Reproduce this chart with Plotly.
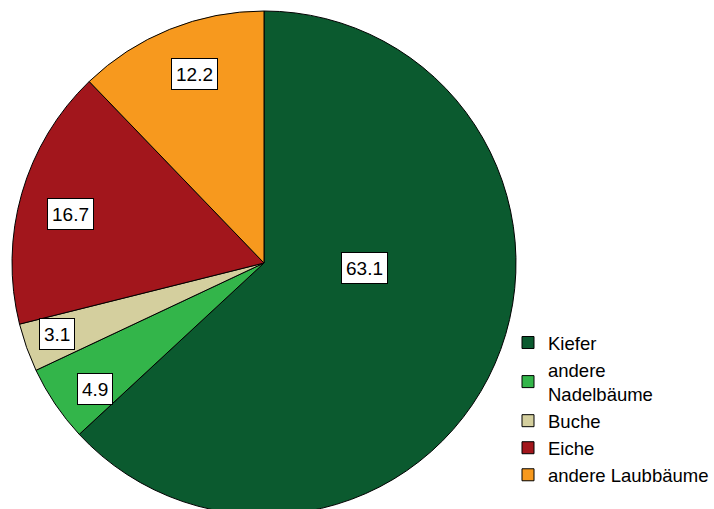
import math
import plotly.graph_objects as go

labels = ["Kiefer", "andere<br>Nadelbäume", "Buche", "Eiche", "andere Laubbäume"]
values = [63.1, 4.9, 3.1, 16.7, 12.2]
value_text = ["63.1", "4.9", "3.1", "16.7", "12.2"]
colors = ["#0b5a2f", "#33b54a", "#d4cf9e", "#a2161c", "#f7991e"]

# label placement style (fraction of radius, angular offset in degrees)
label_rfrac = [0.40, 0.836, 0.867, 0.79, 0.80]
label_dang = [-20.8, -2.8, 0.6, -1.9, 1.9]

W, H = 714, 526
dom_x = [12 / W, 516 / W]
dom_y = [1 - 515 / H, 1 - 11 / H]
FONT = "Liberation Sans, Arial, sans-serif"

fig = go.Figure()
fig.add_trace(go.Pie(
    labels=labels, values=values, sort=False, direction="clockwise", rotation=0,
    marker=dict(colors=colors, line=dict(color="black", width=1)),
    textinfo="none", hoverinfo="label+value",
    domain=dict(x=dom_x, y=dom_y),
))

# pie geometry in pixels (derived from domain)
cx = (dom_x[0] + dom_x[1]) / 2 * W
cy = (1 - (dom_y[0] + dom_y[1]) / 2) * H
R = min((dom_x[1] - dom_x[0]) * W, (dom_y[1] - dom_y[0]) * H) / 2

total = sum(values)
cum = 0.0
for v, t, f, da in zip(values, value_text, label_rfrac, label_dang):
    mid = (cum + v / 2) / total * 360 + da
    cum += v
    px = cx + f * R * math.sin(math.radians(mid))
    py = cy - f * R * math.cos(math.radians(mid))
    fig.add_annotation(
        x=px / W, y=1 - py / H, xref="paper", yref="paper", text=t, showarrow=False,
        font=dict(family=FONT, size=19, color="black"),
        bgcolor="white", bordercolor="black", borderwidth=1, borderpad=4, height=22,
        xanchor="center", yanchor="middle",
    )

fig.update_layout(
    width=W, height=H, margin=dict(l=0, r=0, t=0, b=0),
    paper_bgcolor="white", plot_bgcolor="white",
    font=dict(family=FONT, size=18.5, color="black"),
    showlegend=True,
    legend=dict(x=508 / W, y=1 - 324 / H, xanchor="left", yanchor="top",
                bgcolor="rgba(0,0,0,0)", font=dict(size=18.5), traceorder="normal"),
)

fig.write_html("out.html", post_script="document.documentElement.style.overflow='hidden';document.body.style.overflow='hidden';document.body.style.margin='0';")
